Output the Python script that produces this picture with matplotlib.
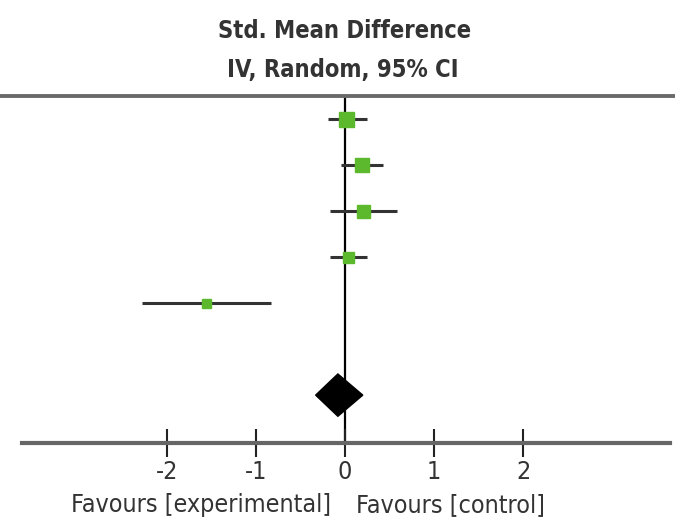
import matplotlib
matplotlib.use("Agg")
import matplotlib.pyplot as plt
from matplotlib.patches import Polygon

# Data
effects = [0.01, 0.19, 0.20, 0.03, -1.56]
ci_low = [-0.19, -0.04, -0.17, -0.17, -2.28]
ci_high = [0.25, 0.43, 0.58, 0.25, -0.83]
weights = [15, 14, 13, 11, 9]
pooled = -0.08
pooled_low = -0.33
pooled_high = 0.20
xticks = [-2, -1, 0, 1, 2]
xticklabels = ["-2", "-1", "0", "1", "2"]

plt.rcParams['font.family'] = ["DejaVu Sans"]
plt.rcParams['font.stretch'] = "condensed"

fig = plt.figure(figsize=(6.75, 5.29), dpi=100)
ax = fig.add_axes([0, 0.1626, 1, 0.8185 - 0.1626])
ax.set_xlim(-345 / 89, 330 / 89)
ax.set_ylim(7.04, -0.5)

green = "#5cb82c"
for i, (e, lo, hi, w) in enumerate(zip(effects, ci_low, ci_high, weights)):
    ax.plot([lo, hi], [i, i], color="#333333", lw=2.2, solid_capstyle="butt", zorder=2)
    ax.plot(e, i, marker="s", ms=w * 0.72, color=green, mec=green, zorder=3)

dy = 0.46
ax.add_patch(Polygon([[pooled_low, 6], [pooled, 6 - dy], [pooled_high, 6], [pooled, 6 + dy]],
                     closed=True, color="black", zorder=4))

ax.axvline(0, color="black", lw=1.6, zorder=1)
ax.axhline(-0.5, color="#6a6a6a", lw=2.8, zorder=5, clip_on=False)

for s in ["top", "left", "right"]:
    ax.spines[s].set_visible(False)
ax.spines["bottom"].set_color("#666666")
ax.spines["bottom"].set_linewidth(3)
ax.spines["bottom"].set_bounds(-323 / 89, 325 / 89)
ax.set_yticks([])
ax.set_xticks(xticks)
ax.set_xticklabels(xticklabels, fontsize=18, color="#333333")
ax.tick_params(axis="x", direction="inout", length=20, width=1.5, color="#222222", pad=2)

fig.text(345 / 675, 1 - 31 / 529, "Std. Mean Difference", ha="center", va="center",
         fontsize=17, fontweight="bold", color="#333333")
fig.text(343 / 675, 1 - 70 / 529, "IV, Random, 95% CI", ha="center", va="center",
         fontsize=17, fontweight="bold", color="#333333")
fig.text(201 / 675, 1 - 505 / 529, "Favours [experimental]", ha="center", va="center",
         fontsize=18, color="#333333")
fig.text(450 / 675, 1 - 505 / 529, "Favours [control]", ha="center", va="center",
         fontsize=18, color="#333333")

fig.savefig("out.png", dpi=100)
